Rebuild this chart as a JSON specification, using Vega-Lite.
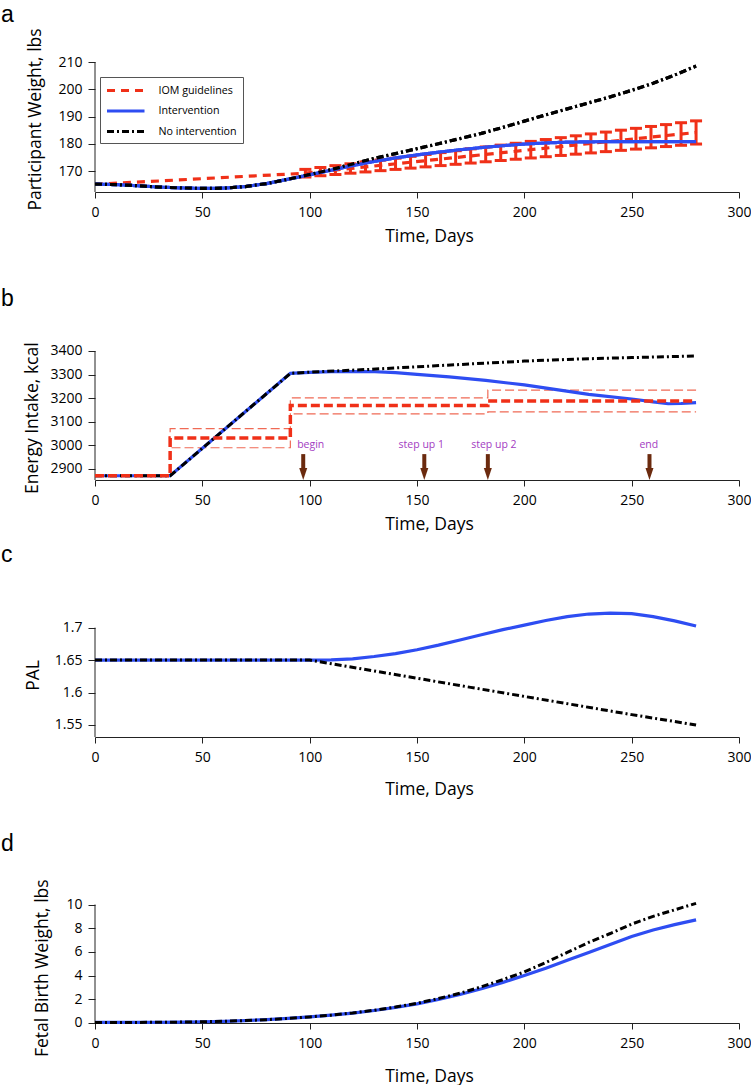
{
  "$schema": "https://vega.github.io/schema/vega-lite/v6.json",
  "padding": {"left": 1, "top": 3, "right": 0, "bottom": 0},
  "autosize": {"type": "pad"},
  "config": {
    "view": {"stroke": null},
    "font": "Open Sans",
    "axis": {"grid": false, "labelFont": "Open Sans", "labelFontSize": 14, "labelColor": "#000", "titleFont": "Open Sans", "titleFontSize": 17.5, "titleFontWeight": "normal", "titleColor": "#000", "domainColor": "#222", "tickColor": "#222", "labelFlush": false, "labelOverlap": false, "labelBound": false},
    "axisX": {"tickSize": 6, "labelPadding": 7, "titleX": 334, "titleBaseline": "alphabetic", "titleAlign": "center"},
    "axisY": {"tickSize": 7, "labelPadding": 6, "domain": false, "titleBaseline": "alphabetic", "titleAlign": "center", "titleAngle": -90},
    "title": {"fontSize": 23, "fontWeight": "normal", "anchor": "start", "frame": "group", "dx": -94, "baseline": "top", "color": "#000", "font": "Liberation Sans"}
  },
  "datasets": {
    "weight": [
      {"series": "IOM guidelines", "day": 0, "v": 165.1},
      {"series": "IOM guidelines", "day": 98, "v": 169.2},
      {"series": "IOM guidelines", "day": 280, "v": 184.15},
      {"series": "Intervention", "day": 0, "v": 165.2},
      {"series": "Intervention", "day": 10, "v": 165.0},
      {"series": "Intervention", "day": 20, "v": 164.6},
      {"series": "Intervention", "day": 30, "v": 164.1},
      {"series": "Intervention", "day": 40, "v": 163.8},
      {"series": "Intervention", "day": 50, "v": 163.6},
      {"series": "Intervention", "day": 60, "v": 163.7},
      {"series": "Intervention", "day": 70, "v": 164.3},
      {"series": "Intervention", "day": 80, "v": 165.4},
      {"series": "Intervention", "day": 90, "v": 167.0},
      {"series": "Intervention", "day": 100, "v": 168.6},
      {"series": "Intervention", "day": 110, "v": 170.3},
      {"series": "Intervention", "day": 120, "v": 172.0},
      {"series": "Intervention", "day": 130, "v": 173.5},
      {"series": "Intervention", "day": 140, "v": 174.8},
      {"series": "Intervention", "day": 150, "v": 175.9},
      {"series": "Intervention", "day": 160, "v": 176.9},
      {"series": "Intervention", "day": 170, "v": 177.8},
      {"series": "Intervention", "day": 180, "v": 178.6},
      {"series": "Intervention", "day": 190, "v": 179.3},
      {"series": "Intervention", "day": 200, "v": 179.9},
      {"series": "Intervention", "day": 210, "v": 180.3},
      {"series": "Intervention", "day": 220, "v": 180.6},
      {"series": "Intervention", "day": 230, "v": 180.7},
      {"series": "Intervention", "day": 240, "v": 180.8},
      {"series": "Intervention", "day": 250, "v": 180.8},
      {"series": "Intervention", "day": 260, "v": 180.8},
      {"series": "Intervention", "day": 270, "v": 180.8},
      {"series": "Intervention", "day": 280, "v": 180.8},
      {"series": "No intervention", "day": 0, "v": 165.2},
      {"series": "No intervention", "day": 10, "v": 165.0},
      {"series": "No intervention", "day": 20, "v": 164.6},
      {"series": "No intervention", "day": 30, "v": 164.1},
      {"series": "No intervention", "day": 40, "v": 163.8},
      {"series": "No intervention", "day": 50, "v": 163.6},
      {"series": "No intervention", "day": 60, "v": 163.7},
      {"series": "No intervention", "day": 70, "v": 164.3},
      {"series": "No intervention", "day": 80, "v": 165.4},
      {"series": "No intervention", "day": 90, "v": 167.0},
      {"series": "No intervention", "day": 100, "v": 168.7},
      {"series": "No intervention", "day": 110, "v": 170.5},
      {"series": "No intervention", "day": 120, "v": 172.6},
      {"series": "No intervention", "day": 130, "v": 174.6},
      {"series": "No intervention", "day": 140, "v": 176.4},
      {"series": "No intervention", "day": 150, "v": 178.2},
      {"series": "No intervention", "day": 160, "v": 180.0},
      {"series": "No intervention", "day": 170, "v": 181.9},
      {"series": "No intervention", "day": 180, "v": 183.8},
      {"series": "No intervention", "day": 190, "v": 186.0},
      {"series": "No intervention", "day": 200, "v": 188.3},
      {"series": "No intervention", "day": 210, "v": 190.6},
      {"series": "No intervention", "day": 220, "v": 192.8},
      {"series": "No intervention", "day": 230, "v": 195.0},
      {"series": "No intervention", "day": 240, "v": 197.2},
      {"series": "No intervention", "day": 250, "v": 199.6},
      {"series": "No intervention", "day": 260, "v": 202.2},
      {"series": "No intervention", "day": 270, "v": 205.2},
      {"series": "No intervention", "day": 280, "v": 208.5}
    ],
    "iom": [
      {"day": 98, "lo": 167.8, "hi": 170.6},
      {"day": 105, "lo": 168.27, "hi": 171.28},
      {"day": 112, "lo": 168.73, "hi": 171.97},
      {"day": 119, "lo": 169.2, "hi": 172.65},
      {"day": 126, "lo": 169.66, "hi": 173.34},
      {"day": 133, "lo": 170.13, "hi": 174.02},
      {"day": 140, "lo": 170.59, "hi": 174.71},
      {"day": 147, "lo": 171.06, "hi": 175.39},
      {"day": 154, "lo": 171.52, "hi": 176.08},
      {"day": 161, "lo": 171.99, "hi": 176.76},
      {"day": 168, "lo": 172.46, "hi": 177.45},
      {"day": 175, "lo": 172.92, "hi": 178.13},
      {"day": 182, "lo": 173.39, "hi": 178.82},
      {"day": 189, "lo": 173.85, "hi": 179.5},
      {"day": 196, "lo": 174.32, "hi": 180.18},
      {"day": 203, "lo": 174.78, "hi": 180.87},
      {"day": 210, "lo": 175.25, "hi": 181.55},
      {"day": 217, "lo": 175.71, "hi": 182.24},
      {"day": 224, "lo": 176.18, "hi": 182.92},
      {"day": 231, "lo": 176.64, "hi": 183.61},
      {"day": 238, "lo": 177.11, "hi": 184.29},
      {"day": 245, "lo": 177.58, "hi": 184.98},
      {"day": 252, "lo": 178.04, "hi": 185.66},
      {"day": 259, "lo": 178.51, "hi": 186.35},
      {"day": 266, "lo": 178.97, "hi": 187.03},
      {"day": 273, "lo": 179.44, "hi": 187.72},
      {"day": 280, "lo": 179.9, "hi": 188.4}
    ],
    "energyInt": [
      {"day": 0, "v": 2870}, {"day": 35, "v": 2870}, {"day": 91, "v": 3305}, {"day": 100, "v": 3309},
      {"day": 110, "v": 3312}, {"day": 128, "v": 3313}, {"day": 140, "v": 3308}, {"day": 150, "v": 3301},
      {"day": 165, "v": 3290}, {"day": 182, "v": 3275}, {"day": 200, "v": 3256}, {"day": 215, "v": 3236},
      {"day": 230, "v": 3216}, {"day": 251, "v": 3195}, {"day": 260, "v": 3184}, {"day": 267, "v": 3176},
      {"day": 273, "v": 3177}, {"day": 280, "v": 3181}
    ],
    "energyNo": [
      {"day": 0, "v": 2870}, {"day": 35, "v": 2870}, {"day": 91, "v": 3305}, {"day": 100, "v": 3310},
      {"day": 128, "v": 3322}, {"day": 150, "v": 3333}, {"day": 175, "v": 3345}, {"day": 200, "v": 3357},
      {"day": 225, "v": 3366}, {"day": 250, "v": 3372}, {"day": 280, "v": 3379}
    ],
    "energyIom": [
      {"ord": 1, "day": 0, "v": 2870}, {"ord": 2, "day": 35, "v": 2870}, {"ord": 3, "day": 35, "v": 3030},
      {"ord": 4, "day": 91, "v": 3030}, {"ord": 5, "day": 91, "v": 3168}, {"ord": 6, "day": 183, "v": 3168},
      {"ord": 7, "day": 183, "v": 3188}, {"ord": 8, "day": 280, "v": 3188}
    ],
    "energyBand": [
      {"ord": 1, "day": 280, "v": 3234}, {"ord": 2, "day": 183, "v": 3234}, {"ord": 3, "day": 183, "v": 3201},
      {"ord": 4, "day": 91, "v": 3201}, {"ord": 5, "day": 91, "v": 3070}, {"ord": 6, "day": 35, "v": 3070},
      {"ord": 7, "day": 35, "v": 2989}, {"ord": 8, "day": 91, "v": 2989}, {"ord": 9, "day": 91, "v": 3133},
      {"ord": 10, "day": 183, "v": 3133}, {"ord": 11, "day": 183, "v": 3141}, {"ord": 12, "day": 280, "v": 3141}
    ],
    "arrows": [
      {"label": "begin", "day": 97, "textDay": 100.5},
      {"label": "step up 1", "day": 153.4, "textDay": 152},
      {"label": "step up 2", "day": 183, "textDay": 185.8},
      {"label": "end", "day": 258.3, "textDay": 258}
    ],
    "palInt": [
      {"day": 0, "v": 1.65}, {"day": 100, "v": 1.65}, {"day": 110, "v": 1.6505}, {"day": 120, "v": 1.652},
      {"day": 130, "v": 1.6555}, {"day": 140, "v": 1.66}, {"day": 150, "v": 1.666}, {"day": 160, "v": 1.673},
      {"day": 170, "v": 1.681}, {"day": 180, "v": 1.689}, {"day": 190, "v": 1.697}, {"day": 200, "v": 1.704},
      {"day": 210, "v": 1.711}, {"day": 220, "v": 1.717}, {"day": 230, "v": 1.721}, {"day": 240, "v": 1.7225},
      {"day": 250, "v": 1.7215}, {"day": 260, "v": 1.717}, {"day": 270, "v": 1.7105}, {"day": 280, "v": 1.7025}
    ],
    "palNo": [
      {"day": 0, "v": 1.65}, {"day": 100, "v": 1.65}, {"day": 125, "v": 1.636}, {"day": 150, "v": 1.622},
      {"day": 175, "v": 1.608}, {"day": 200, "v": 1.594}, {"day": 225, "v": 1.58}, {"day": 250, "v": 1.566},
      {"day": 280, "v": 1.55}
    ],
    "fetalInt": [
      {"day": 0, "v": 0.03}, {"day": 30, "v": 0.04}, {"day": 40, "v": 0.06}, {"day": 50, "v": 0.09},
      {"day": 60, "v": 0.13}, {"day": 70, "v": 0.19}, {"day": 80, "v": 0.27}, {"day": 90, "v": 0.37},
      {"day": 100, "v": 0.5}, {"day": 110, "v": 0.65}, {"day": 120, "v": 0.82}, {"day": 130, "v": 1.04},
      {"day": 140, "v": 1.3}, {"day": 150, "v": 1.6}, {"day": 160, "v": 1.98}, {"day": 170, "v": 2.4},
      {"day": 180, "v": 2.88}, {"day": 190, "v": 3.42}, {"day": 200, "v": 4.0}, {"day": 210, "v": 4.62},
      {"day": 220, "v": 5.28}, {"day": 230, "v": 5.95}, {"day": 240, "v": 6.62}, {"day": 250, "v": 7.3},
      {"day": 260, "v": 7.85}, {"day": 270, "v": 8.3}, {"day": 280, "v": 8.7}
    ],
    "fetalNo": [
      {"day": 0, "v": 0.03}, {"day": 30, "v": 0.04}, {"day": 40, "v": 0.06}, {"day": 50, "v": 0.09},
      {"day": 60, "v": 0.13}, {"day": 70, "v": 0.19}, {"day": 80, "v": 0.27}, {"day": 90, "v": 0.37},
      {"day": 100, "v": 0.5}, {"day": 110, "v": 0.65}, {"day": 120, "v": 0.83}, {"day": 130, "v": 1.06},
      {"day": 140, "v": 1.33}, {"day": 150, "v": 1.65}, {"day": 160, "v": 2.05}, {"day": 170, "v": 2.5},
      {"day": 180, "v": 3.05}, {"day": 190, "v": 3.65}, {"day": 200, "v": 4.3}, {"day": 210, "v": 5.1},
      {"day": 220, "v": 5.95}, {"day": 230, "v": 6.8}, {"day": 240, "v": 7.55}, {"day": 250, "v": 8.35},
      {"day": 260, "v": 9.0}, {"day": 270, "v": 9.55}, {"day": 280, "v": 10.1}
    ]
  },
  "bounds": "flush",
  "spacing": 40,
  "resolve": {"scale": {"x": "independent", "y": "independent"}},
  "vconcat": [
    {
      "width": 644,
      "height": 130,
      "title": {"text": "a", "offset": 1},
      "layer": [
        {
          "data": {"name": "weight"},
          "mark": {"type": "line", "strokeWidth": 3.2},
          "encoding": {
            "x": {"field": "day", "type": "quantitative", "scale": {"domain": [0, 300], "nice": false, "zero": false},
                  "axis": {"values": [0, 50, 100, 150, 200, 250, 300], "title": "Time, Days", "titleY": 49.7}},
            "y": {"field": "v", "type": "quantitative", "scale": {"domain": [162.3, 210], "nice": false, "zero": false},
                  "axis": {"values": [170, 180, 190, 200, 210], "labelOverlap": false, "title": "Participant Weight, lbs", "titleX": -55, "titleY": 57}},
            "color": {"field": "series", "type": "nominal",
                      "scale": {"domain": ["IOM guidelines", "Intervention", "No intervention"], "range": ["#F03018", "#2E4DF2", "#000000"]},
                      "legend": {"title": null, "orient": "none", "legendX": 5, "legendY": 15, "symbolType": "M-1,0H4.77", "symbolSize": 169, "symbolStrokeWidth": 3, "labelOffset": 37, "labelFontSize": 10.7, "labelFont": "Open Sans", "labelColor": "#000", "rowPadding": 6.5, "padding": 5.5, "strokeColor": "#555", "fillColor": "#fff"}},
            "strokeDash": {"field": "series", "type": "nominal",
                      "scale": {"domain": ["IOM guidelines", "Intervention", "No intervention"], "range": [[8, 6], [1, 0], [7, 3, 2, 3]]},
                      "legend": {"title": null, "orient": "none", "legendX": 5, "legendY": 15, "symbolType": "M-1,0H4.77", "symbolSize": 169, "symbolStrokeWidth": 3, "labelOffset": 37, "labelFontSize": 10.7, "labelFont": "Open Sans", "labelColor": "#000", "rowPadding": 6.5, "padding": 5.5, "strokeColor": "#555", "fillColor": "#fff"}}
          }
        },
        {
          "data": {"values": [{"x0": 0, "ylo": 162.3, "yhi": 210}]},
          "mark": {"type": "rule", "color": "#222", "strokeWidth": 1},
          "encoding": {
            "x": {"field": "x0", "type": "quantitative", "scale": {"domain": [0, 300], "nice": false, "zero": false},
                  "axis": {"values": [0, 50, 100, 150, 200, 250, 300], "title": "Time, Days", "titleY": 49.7}},
            "y": {"field": "ylo", "type": "quantitative", "scale": {"domain": [162.3, 210], "nice": false, "zero": false},
                  "axis": {"values": [170, 180, 190, 200, 210], "labelOverlap": false, "title": "Participant Weight, lbs", "titleX": -55, "titleY": 57}},
            "y2": {"field": "yhi"}
          }
        },
        {
          "data": {"name": "iom"},
          "mark": {"type": "rule", "color": "#F03018", "strokeWidth": 3, "opacity": 1},
          "encoding": {
            "x": {"field": "day", "type": "quantitative", "scale": {"domain": [0, 300], "nice": false, "zero": false},
                  "axis": {"values": [0, 50, 100, 150, 200, 250, 300], "title": "Time, Days", "titleY": 49.7}},
            "y": {"field": "lo", "type": "quantitative", "scale": {"domain": [162.3, 210], "nice": false, "zero": false},
                  "axis": {"values": [170, 180, 190, 200, 210], "labelOverlap": false, "title": "Participant Weight, lbs", "titleX": -55, "titleY": 57}},
            "y2": {"field": "hi"}
          }
        },
        {
          "data": {"name": "iom"},
          "mark": {"type": "tick", "orient": "horizontal", "color": "#F03018", "size": 12, "thickness": 3, "opacity": 1},
          "encoding": {
            "x": {"field": "day", "type": "quantitative", "scale": {"domain": [0, 300], "nice": false, "zero": false},
                  "axis": {"values": [0, 50, 100, 150, 200, 250, 300], "title": "Time, Days", "titleY": 49.7}},
            "y": {"field": "lo", "type": "quantitative", "scale": {"domain": [162.3, 210], "nice": false, "zero": false},
                  "axis": {"values": [170, 180, 190, 200, 210], "labelOverlap": false, "title": "Participant Weight, lbs", "titleX": -55, "titleY": 57}}
          }
        },
        {
          "data": {"name": "iom"},
          "mark": {"type": "tick", "orient": "horizontal", "color": "#F03018", "size": 12, "thickness": 3, "opacity": 1},
          "encoding": {
            "x": {"field": "day", "type": "quantitative", "scale": {"domain": [0, 300], "nice": false, "zero": false},
                  "axis": {"values": [0, 50, 100, 150, 200, 250, 300], "title": "Time, Days", "titleY": 49.7}},
            "y": {"field": "hi", "type": "quantitative", "scale": {"domain": [162.3, 210], "nice": false, "zero": false},
                  "axis": {"values": [170, 180, 190, 200, 210], "labelOverlap": false, "title": "Participant Weight, lbs", "titleX": -55, "titleY": 57}}
          }
        },
        {
          "data": {"name": "weight"},
          "transform": [{"filter": "datum.series !== 'IOM guidelines'"}],
          "mark": {"type": "line", "strokeWidth": 3.2},
          "encoding": {
            "x": {"field": "day", "type": "quantitative", "scale": {"domain": [0, 300], "nice": false, "zero": false},
                  "axis": {"values": [0, 50, 100, 150, 200, 250, 300], "title": "Time, Days", "titleY": 49.7}},
            "y": {"field": "v", "type": "quantitative", "scale": {"domain": [162.3, 210], "nice": false, "zero": false},
                  "axis": {"values": [170, 180, 190, 200, 210], "labelOverlap": false, "title": "Participant Weight, lbs", "titleX": -55, "titleY": 57}},
            "color": {"field": "series", "type": "nominal"},
            "strokeDash": {"field": "series", "type": "nominal"}
          }
        }
      ]
    },
    {
      "width": 644,
      "height": 248,
      "title": {"text": "b", "offset": -79},
      "layer": [
        {
          "data": {"name": "energyBand"},
          "mark": {"type": "line", "color": "#F06A55", "strokeWidth": 1.2, "strokeDash": [9, 4]},
          "encoding": {
            "x": {"field": "day", "type": "quantitative", "scale": {"domain": [0, 300], "nice": false, "zero": false},
                  "axis": {"values": [0, 50, 100, 150, 200, 250, 300], "title": "Time, Days", "titleY": 49}},
            "y": {"field": "v", "type": "quantitative", "scale": {"domain": [2852, 3905.5], "nice": false, "zero": false},
                  "axis": {"values": [2900, 3000, 3100, 3200, 3300, 3400], "format": "d", "title": "Energy Intake, kcal", "titleX": -58, "titleY": 185.7}},
            "order": {"field": "ord", "type": "quantitative"}
          }
        },
        {
          "data": {"values": [{"x0": 0, "ylo": 2852, "yhi": 3400}]},
          "mark": {"type": "rule", "color": "#222", "strokeWidth": 1},
          "encoding": {
            "x": {"field": "x0", "type": "quantitative", "scale": {"domain": [0, 300], "nice": false, "zero": false}},
            "y": {"field": "ylo", "type": "quantitative", "scale": {"domain": [2852, 3905.5], "nice": false, "zero": false}},
            "y2": {"field": "yhi"}
          }
        },
        {
          "data": {"name": "energyInt"},
          "mark": {"type": "line", "color": "#2E4DF2", "strokeWidth": 3.2},
          "encoding": {
            "x": {"field": "day", "type": "quantitative", "scale": {"domain": [0, 300], "nice": false, "zero": false}},
            "y": {"field": "v", "type": "quantitative", "scale": {"domain": [2852, 3905.5], "nice": false, "zero": false}}
          }
        },
        {
          "data": {"name": "energyNo"},
          "mark": {"type": "line", "color": "#000000", "strokeWidth": 3, "strokeDash": [7, 3, 2, 3]},
          "encoding": {
            "x": {"field": "day", "type": "quantitative", "scale": {"domain": [0, 300], "nice": false, "zero": false}},
            "y": {"field": "v", "type": "quantitative", "scale": {"domain": [2852, 3905.5], "nice": false, "zero": false}}
          }
        },
        {
          "data": {"name": "energyIom"},
          "mark": {"type": "line", "color": "#F03018", "strokeWidth": 3.5, "strokeDash": [9, 4]},
          "encoding": {
            "x": {"field": "day", "type": "quantitative", "scale": {"domain": [0, 300], "nice": false, "zero": false}},
            "y": {"field": "v", "type": "quantitative", "scale": {"domain": [2852, 3905.5], "nice": false, "zero": false}},
            "order": {"field": "ord", "type": "quantitative"}
          }
        },
        {
          "data": {"name": "arrows"},
          "mark": {"type": "rule", "color": "#6B2A0E", "strokeWidth": 4},
          "encoding": {
            "x": {"field": "day", "type": "quantitative", "scale": {"domain": [0, 300], "nice": false, "zero": false}},
            "y": {"datum": 2962, "type": "quantitative", "scale": {"domain": [2852, 3905.5], "nice": false, "zero": false}},
            "y2": {"datum": 2890}
          }
        },
        {
          "data": {"name": "arrows"},
          "mark": {"type": "point", "shape": "M-1,-1.5L1,-1.5L0,1.5Z", "filled": true, "color": "#6B2A0E", "size": 64, "opacity": 1},
          "encoding": {
            "x": {"field": "day", "type": "quantitative", "scale": {"domain": [0, 300], "nice": false, "zero": false}},
            "y": {"datum": 2877, "type": "quantitative", "scale": {"domain": [2852, 3905.5], "nice": false, "zero": false}}
          }
        },
        {
          "data": {"name": "arrows"},
          "mark": {"type": "text", "color": "#A33CC2", "fontSize": 10.5, "font": "Open Sans", "baseline": "middle", "align": "center"},
          "encoding": {
            "x": {"field": "textDay", "type": "quantitative", "scale": {"domain": [0, 300], "nice": false, "zero": false}},
            "y": {"datum": 3001, "type": "quantitative", "scale": {"domain": [2852, 3905.5], "nice": false, "zero": false}},
            "text": {"field": "label"}
          }
        }
      ]
    },
    {
      "width": 644,
      "height": 217,
      "title": {"text": "c", "offset": -47},
      "layer": [
        {
          "data": {"name": "palInt"},
          "mark": {"type": "line", "color": "#2E4DF2", "strokeWidth": 3.2},
          "encoding": {
            "x": {"field": "day", "type": "quantitative", "scale": {"domain": [0, 300], "nice": false, "zero": false},
                  "axis": {"values": [0, 50, 100, 150, 200, 250, 300], "title": "Time, Days", "titleY": 57}},
            "y": {"field": "v", "type": "quantitative", "scale": {"domain": [1.5315, 1.8659], "nice": false, "zero": false},
                  "axis": {"values": [1.55, 1.6, 1.65, 1.7], "format": ".2~f", "title": "PAL", "titleX": -57, "titleY": 155}}
          }
        },
        {
          "data": {"values": [{"x0": 0, "ylo": 1.5315, "yhi": 1.7}]},
          "mark": {"type": "rule", "color": "#222", "strokeWidth": 1},
          "encoding": {
            "x": {"field": "x0", "type": "quantitative", "scale": {"domain": [0, 300], "nice": false, "zero": false}},
            "y": {"field": "ylo", "type": "quantitative", "scale": {"domain": [1.5315, 1.8659], "nice": false, "zero": false}},
            "y2": {"field": "yhi"}
          }
        },
        {
          "data": {"name": "palNo"},
          "mark": {"type": "line", "color": "#000000", "strokeWidth": 3, "strokeDash": [7, 3, 2, 3]},
          "encoding": {
            "x": {"field": "day", "type": "quantitative", "scale": {"domain": [0, 300], "nice": false, "zero": false}},
            "y": {"field": "v", "type": "quantitative", "scale": {"domain": [1.5315, 1.8659], "nice": false, "zero": false}}
          }
        }
      ]
    },
    {
      "width": 644,
      "height": 246,
      "title": {"text": "d", "offset": -79},
      "layer": [
        {
          "data": {"name": "fetalInt"},
          "mark": {"type": "line", "color": "#2E4DF2", "strokeWidth": 3.2},
          "encoding": {
            "x": {"field": "day", "type": "quantitative", "scale": {"domain": [0, 300], "nice": false, "zero": false},
                  "axis": {"values": [0, 50, 100, 150, 200, 250, 300], "title": "Time, Days", "titleY": 58}},
            "y": {"field": "v", "type": "quantitative", "scale": {"domain": [-0.015, 20.78], "nice": false, "zero": false},
                  "axis": {"values": [0, 2, 4, 6, 8, 10], "title": "Fetal Birth Weight, lbs", "titleX": -48, "titleY": 190.7}}
          }
        },
        {
          "data": {"values": [{"x0": 0, "ylo": -0.015, "yhi": 10}]},
          "mark": {"type": "rule", "color": "#222", "strokeWidth": 1},
          "encoding": {
            "x": {"field": "x0", "type": "quantitative", "scale": {"domain": [0, 300], "nice": false, "zero": false}},
            "y": {"field": "ylo", "type": "quantitative", "scale": {"domain": [-0.015, 20.78], "nice": false, "zero": false}},
            "y2": {"field": "yhi"}
          }
        },
        {
          "data": {"name": "fetalNo"},
          "mark": {"type": "line", "color": "#000000", "strokeWidth": 3, "strokeDash": [7, 3, 2, 3]},
          "encoding": {
            "x": {"field": "day", "type": "quantitative", "scale": {"domain": [0, 300], "nice": false, "zero": false}},
            "y": {"field": "v", "type": "quantitative", "scale": {"domain": [-0.015, 20.78], "nice": false, "zero": false}}
          }
        }
      ]
    }
  ]
}
